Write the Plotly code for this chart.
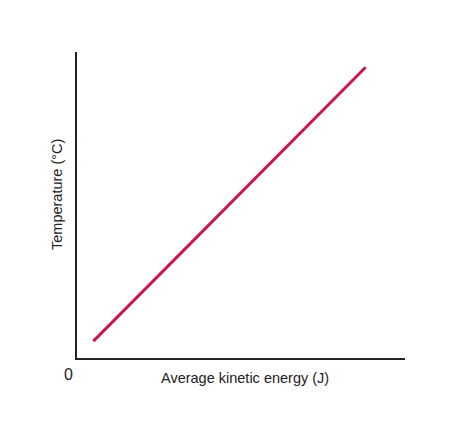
import plotly.graph_objects as go

energy = [5.0, 88.0]
temperature = [5.5, 95.0]

fig = go.Figure()
fig.add_trace(go.Scatter(x=energy, y=temperature, mode="lines",
                         line=dict(color="#C8174F", width=3), showlegend=False,
                         hoverinfo="skip"))

OFF = 8  # default page body margin
W, H = 456 - OFF, 436 - OFF
L, R, T, B = 77 - OFF, 405 - OFF, 52 - OFF, 358 - OFF
pw, ph = R - L, B - T

def px(x):
    return (x - OFF - L) / pw

def py(y):
    return (B - (y - OFF)) / ph

fig.update_layout(
    width=W, height=H,
    margin=dict(l=L, r=W - R, t=T, b=H - B),
    paper_bgcolor="white", plot_bgcolor="white",
    font=dict(family="Liberation Sans, Arial, sans-serif", size=14.5, color="#222"),
    xaxis=dict(range=[0, 100], showgrid=False, zeroline=False, showticklabels=False,
               ticks="", showline=True, linecolor="#222", linewidth=2, fixedrange=True),
    yaxis=dict(range=[0, 100], showgrid=False, zeroline=False, showticklabels=False,
               ticks="", showline=True, linecolor="#222", linewidth=2, fixedrange=True),
    annotations=[
        dict(text="0", xref="paper", yref="paper", x=px(68), y=py(374),
             showarrow=False, xanchor="center", yanchor="middle",
             font=dict(size=16)),
        dict(text="Average kinetic energy (J)", xref="paper", yref="paper",
             x=px(245), y=py(378), showarrow=False, xanchor="center", yanchor="middle"),
        dict(text="Temperature (°C)", xref="paper", yref="paper",
             x=px(57), y=py(195), showarrow=False, xanchor="center", yanchor="middle",
             textangle=-90),
    ],
)

fig.write_html("out.html")
